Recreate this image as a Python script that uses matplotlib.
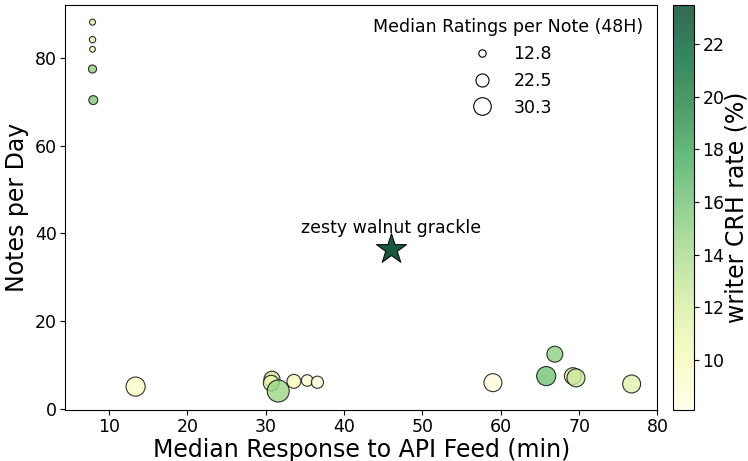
import matplotlib
matplotlib.use("Agg")
import matplotlib.pyplot as plt
import numpy as np
from matplotlib.lines import Line2D

# data
resp_min = [7.9, 7.9, 7.9, 7.9, 8.0, 13.4, 30.8, 30.7, 31.6, 33.6, 35.3, 36.6,
            59.0, 66.9, 65.8, 69.2, 69.6, 76.7]
notes_per_day = [88.2, 84.2, 82.0, 77.5, 70.4, 5.0, 6.7, 5.8, 4.0, 6.2, 6.4, 6.0,
                 5.9, 12.4, 7.4, 7.4, 7.0, 5.6]
ratings = [10.5, 11, 10, 14, 15.5, 33, 27.5, 27, 38, 24, 20, 21,
           31, 27.5, 33, 29, 31, 31]
crh_rate = [12.0, 11.5, 11.0, 15.0, 15.5, 9.5, 12.5, 11.0, 14.5, 10.0, 9.0, 8.6,
            8.6, 15.0, 16.0, 12.0, 12.5, 11.5]

star_name = "zesty walnut grackle"
star_x, star_y, star_crh = 46.0, 36.5, 23.5

legend_vals = [12.8, 22.5, 30.3]
crh_lo, crh_hi = 8.1, 23.5


def size_of(v):
    return (np.asarray(v) / 30.3) ** 2 * 160


fig = plt.figure(figsize=(7.48, 4.61), dpi=100)
ax = fig.add_axes([0.087, 0.111, 0.792, 0.879])
cax = fig.add_axes([0.9, 0.111, 0.028, 0.879])

cmap = plt.get_cmap("YlGn")
norm = plt.Normalize(crh_lo, crh_hi)

sc = ax.scatter(resp_min, notes_per_day, s=size_of(ratings), c=crh_rate,
                cmap=cmap, norm=norm, alpha=0.8, edgecolors="black",
                linewidths=0.8, zorder=3)
ax.scatter([star_x], [star_y], marker="*", s=520, color=cmap(norm(star_crh)),
           edgecolors="black", linewidths=0.8, alpha=0.9, zorder=4)
ax.text(star_x, star_y + 2.6, star_name, ha="center", va="bottom", fontsize=12.5)

ax.set_xlim(4.4, 80)
ax.set_ylim(-0.3, 92.2)
ax.set_xticks(range(10, 81, 10))
ax.set_yticks(range(0, 81, 20))
ax.tick_params(labelsize=12.5, pad=2.5)
ax.set_xlabel("Median Response to API Feed (min)", fontsize=17, labelpad=1)
ax.set_ylabel("Notes per Day", fontsize=17, labelpad=4)

handles = [Line2D([], [], marker="o", linestyle="", markerfacecolor="white",
                  markeredgecolor="black", markeredgewidth=0.8,
                  markersize=np.sqrt(size_of(v)))
           for v in legend_vals]
ax.legend(handles, [f"{v}" for v in legend_vals], title="Median Ratings per Note (48H)",
          loc="upper right", frameon=False, fontsize=12.5, title_fontsize=12.5,
          labelspacing=0.5, borderaxespad=0.4)

cb = fig.colorbar(sc, cax=cax)
cb.solids.set_alpha(0.8)
cb.ax.tick_params(labelsize=12.5, pad=2.5)
cb.set_label("writer CRH rate (%)", fontsize=17, labelpad=0)

fig.savefig("out.png", dpi=100)
